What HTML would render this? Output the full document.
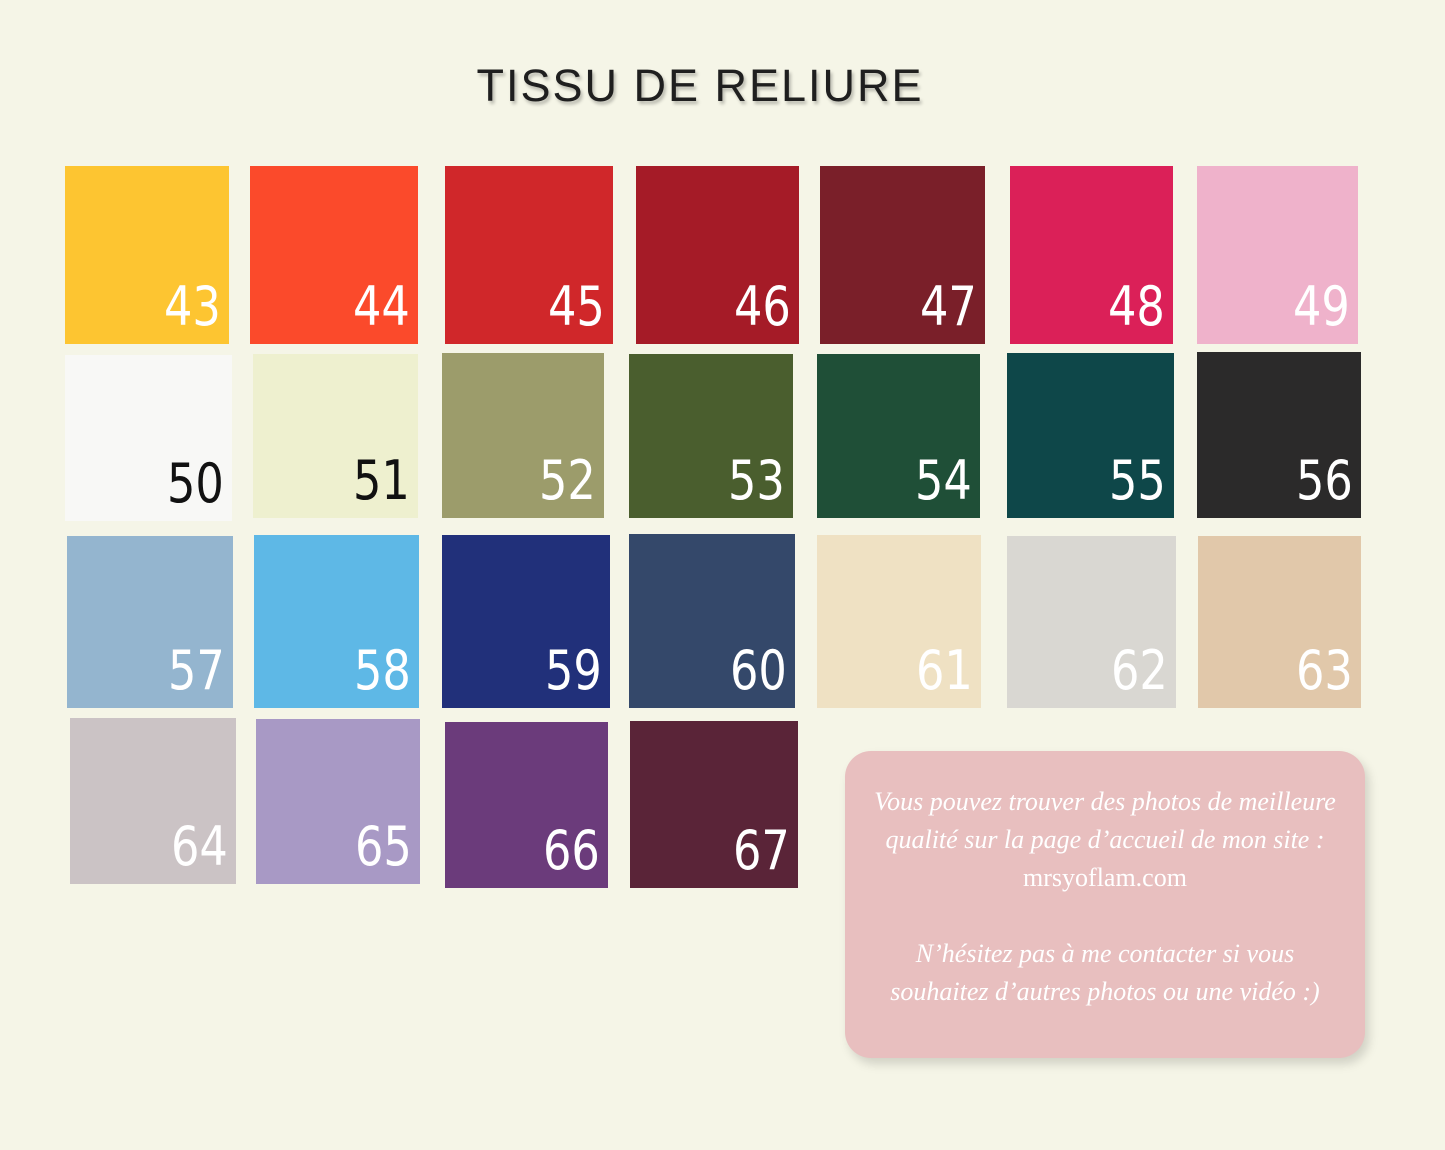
<!DOCTYPE html>
<html><head><meta charset="utf-8"><style>
body{margin:0;width:1445px;height:1150px;background:#f5f5e7;position:relative;overflow:hidden;font-family:"Liberation Sans","DejaVu Sans",sans-serif}
.t{position:absolute;left:0;width:1400px;text-align:center;top:60px;font-size:45px;letter-spacing:2px;color:#1f1f1f;text-shadow:2px 3px 3px rgba(0,0,0,.25)}
.s{position:absolute}
.s span{position:absolute;right:8px;bottom:10px;font-size:54px;color:#fff;line-height:1;font-family:"DejaVu Sans Condensed","Liberation Sans Narrow","Liberation Sans",sans-serif;transform:scaleX(.92);transform-origin:right bottom}
.k span{color:#111}
.box{position:absolute;left:845px;top:751px;width:520px;height:307px;background:#e8bfbf;border-radius:26px;box-shadow:4px 6px 10px rgba(0,0,0,.15);color:#fff;font-family:"Liberation Serif",serif;font-style:italic;font-size:26px;text-align:center;line-height:38px;padding-top:32px;box-sizing:border-box}
</style></head><body>
<div class="t">TISSU DE RELIURE</div>
<div class="s" style="left:65px;top:166px;width:164px;height:178px;background:#fdc531"><span>43</span></div>
<div class="s" style="left:250px;top:166px;width:168px;height:178px;background:#fb4a2b"><span>44</span></div>
<div class="s" style="left:445px;top:166px;width:168px;height:178px;background:#d0272a"><span>45</span></div>
<div class="s" style="left:636px;top:166px;width:163px;height:178px;background:#a51b27"><span>46</span></div>
<div class="s" style="left:820px;top:166px;width:165px;height:178px;background:#7a1f29"><span>47</span></div>
<div class="s" style="left:1010px;top:166px;width:163px;height:178px;background:#db2058"><span>48</span></div>
<div class="s" style="left:1197px;top:166px;width:161px;height:178px;background:#efb2cb"><span>49</span></div>

<div class="s k" style="left:65px;top:355px;width:167px;height:166px;background:#f8f8f6"><span>50</span></div>
<div class="s k" style="left:253px;top:354px;width:165px;height:164px;background:#eef0cf"><span>51</span></div>
<div class="s" style="left:442px;top:353px;width:162px;height:165px;background:#9c9c6b"><span>52</span></div>
<div class="s" style="left:629px;top:354px;width:164px;height:164px;background:#4a5e2e"><span>53</span></div>
<div class="s" style="left:817px;top:354px;width:163px;height:164px;background:#1f4f37"><span>54</span></div>
<div class="s" style="left:1007px;top:353px;width:167px;height:165px;background:#0e4749"><span>55</span></div>
<div class="s" style="left:1197px;top:352px;width:164px;height:166px;background:#2b2a2a"><span>56</span></div>

<div class="s" style="left:67px;top:536px;width:166px;height:172px;background:#94b5cf"><span>57</span></div>
<div class="s" style="left:254px;top:535px;width:165px;height:173px;background:#5eb8e6"><span>58</span></div>
<div class="s" style="left:442px;top:535px;width:168px;height:173px;background:#21307a"><span>59</span></div>
<div class="s" style="left:629px;top:534px;width:166px;height:174px;background:#34486a"><span>60</span></div>
<div class="s" style="left:817px;top:535px;width:164px;height:173px;background:#efe1c3"><span>61</span></div>
<div class="s" style="left:1007px;top:536px;width:169px;height:172px;background:#d9d7d2"><span>62</span></div>
<div class="s" style="left:1198px;top:536px;width:163px;height:172px;background:#e1c8aa"><span>63</span></div>

<div class="s" style="left:70px;top:718px;width:166px;height:166px;background:#cbc3c5"><span>64</span></div>
<div class="s" style="left:256px;top:719px;width:164px;height:165px;background:#a899c5"><span>65</span></div>
<div class="s" style="left:445px;top:722px;width:163px;height:166px;background:#6b3b7b"><span>66</span></div>
<div class="s" style="left:630px;top:721px;width:168px;height:167px;background:#5a2438"><span>67</span></div>

<div class="box">Vous pouvez trouver des photos de meilleure<br>qualité sur la page d’accueil de mon site :<br><span style="font-style:normal">mrsyoflam.com</span><br><br>N’hésitez pas à me contacter si vous<br>souhaitez d’autres photos ou une vidéo :)</div>
</body></html>
